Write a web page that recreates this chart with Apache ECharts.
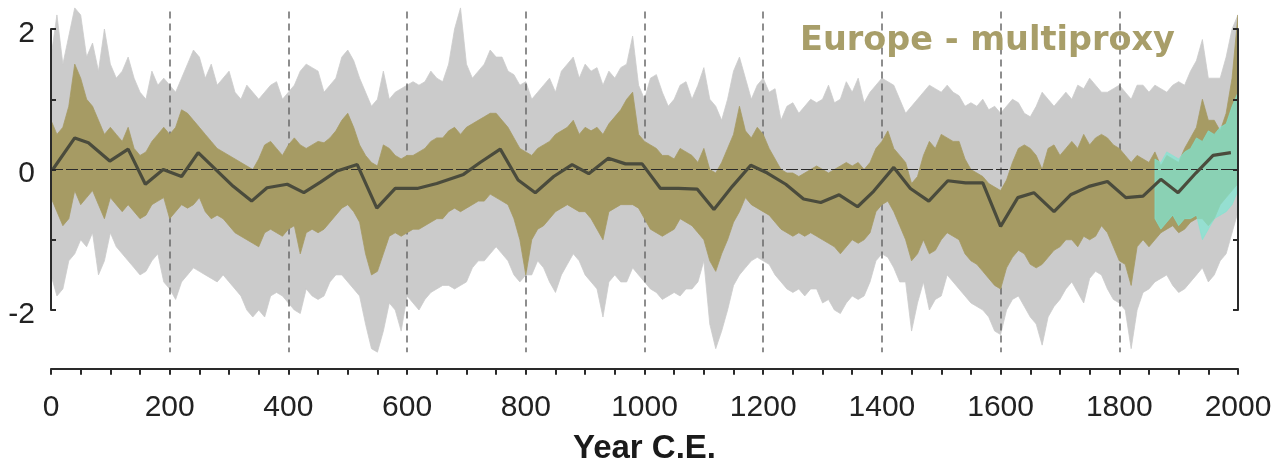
<!DOCTYPE html>
<html>
<head>
<meta charset="utf-8">
<script src="https://cdn.jsdelivr.net/npm/echarts@6/dist/echarts.min.js"></script>
<style>html,body{margin:0;padding:0;background:#fff;}#c{width:1277px;height:462px;}</style>
</head>
<body>
<div id="c"></div>
<script>
// ---- data ----
const yearStart = 0, yearStep = 10;   // decadal samples 0..2000
// gray envelope, upper edge
const grayUpper = [
 1.6, 2.2, 1.5, 1.9, 2.3, 2.2, 1.6, 1.8, 1.4, 2.0,
 1.5, 1.3, 1.4, 1.6, 1.3, 1.1, 1.0, 1.4, 1.2, 1.3,
 1.2, 1.1, 1.3, 1.5, 1.7, 1.6, 1.3, 1.5, 1.2, 1.3,
 1.4, 1.1, 1.0, 1.2, 1.1, 1.0, 1.1, 1.2, 1.25, 1.0,
 1.1, 1.2, 1.4, 1.5, 1.45, 1.4, 1.1, 1.2, 1.3, 1.6,
 1.7, 1.55, 1.3, 1.1, 0.9, 1.0, 1.4, 1.0, 1.1, 1.15,
 1.2, 1.25, 1.2, 1.25, 1.4, 1.3, 1.25, 1.5, 2.0, 2.3,
 1.5, 1.3, 1.4, 1.5, 1.7, 1.6, 1.6, 1.4, 1.35, 1.2,
 1.25, 1.0, 1.1, 1.2, 1.3, 1.1, 1.4, 1.5, 1.6, 1.3,
 1.5, 1.4, 1.45, 1.2, 1.4, 1.3, 1.45, 1.5, 1.9, 1.2,
 1.0, 1.3, 1.35, 1.1, 0.9, 1.0, 1.2, 1.25, 1.0, 1.2,
 1.45, 1.0, 0.9, 0.7, 1.0, 1.4, 1.6, 1.3, 1.0, 1.2,
 1.3, 1.1, 1.15, 0.7, 0.9, 0.95, 0.8, 0.9, 1.0, 0.95,
 1.0, 1.2, 0.95, 1.0, 1.25, 1.1, 1.3, 0.95, 1.1, 1.2,
 1.3, 1.25, 1.2, 1.0, 0.8, 0.9, 1.0, 1.1, 1.2, 1.15,
 1.1, 1.2, 1.1, 1.05, 0.9, 0.95, 0.9, 1.0, 0.85, 0.9,
 0.8, 0.9, 1.0, 0.95, 0.8, 0.75, 0.9, 1.1, 1.0, 0.9,
 1.0, 1.1, 1.0, 1.2, 1.15, 1.3, 1.2, 1.1, 1.1, 1.15,
 1.2, 1.1, 1.0, 1.2, 1.2, 1.1, 1.2, 1.15, 1.1, 1.2,
 1.25, 1.2, 1.4, 1.55, 1.85, 1.3, 1.3, 1.3, 1.6, 2.0,
 2.2
];
// gray envelope, lower edge
const grayLower = [
 -1.5, -1.8, -1.7, -1.3, -1.2, -1.0, -1.1, -0.9, -1.5, -1.3,
 -0.9, -1.1, -1.2, -1.3, -1.4, -1.5, -1.45, -1.3, -1.2, -1.6,
 -1.7, -1.85, -1.6, -1.5, -1.4, -1.45, -1.5, -1.55, -1.6, -1.5,
 -1.6, -1.7, -1.8, -2.0, -2.1, -2.0, -2.1, -1.8, -1.75, -1.8,
 -1.9, -2.0, -2.05, -1.7, -1.8, -1.85, -1.8, -1.6, -1.5, -1.5,
 -1.6, -1.7, -1.8, -2.2, -2.55, -2.6, -2.3, -1.9, -2.0, -2.3,
 -1.8, -1.9, -2.0, -1.85, -1.75, -1.7, -1.65, -1.65, -1.7, -1.65,
 -1.6, -1.4, -1.3, -1.3, -1.2, -1.1, -1.2, -1.3, -1.5, -1.6,
 -1.5, -1.5, -1.3, -1.4, -1.6, -1.75, -1.5, -1.35, -1.2, -1.3,
 -1.5, -1.6, -1.7, -2.1, -1.6, -1.5, -1.6, -1.6, -1.4, -1.5,
 -1.6, -1.7, -1.75, -1.85, -1.8, -1.75, -1.8, -1.7, -1.7, -1.6,
 -1.3, -2.2, -2.55, -2.3, -2.0, -1.65, -1.5, -1.4, -1.3, -1.25,
 -1.3, -1.35, -1.5, -1.6, -1.7, -1.75, -1.7, -1.8, -1.7, -1.7,
 -1.9, -1.85, -2.0, -2.05, -1.9, -1.8, -1.85, -1.8, -1.6, -1.3,
 -1.2, -1.25, -1.4, -1.6, -1.6, -2.3, -1.9, -1.6, -2.0, -1.85,
 -1.8, -1.5, -1.6, -1.7, -1.8, -1.9, -1.95, -2.0, -2.1, -2.3,
 -2.35, -2.0, -1.85, -1.8, -1.95, -2.1, -2.2, -2.5, -2.1, -1.95,
 -1.85, -1.7, -1.6, -1.75, -1.9, -1.55, -1.45, -1.5, -1.7, -1.85,
 -1.9, -2.0, -2.55, -2.0, -1.75, -1.7, -1.6, -1.55, -1.5, -1.65,
 -1.75, -1.7, -1.6, -1.5, -1.4, -1.6, -1.5, -1.3, -1.2, -0.9,
 -0.6
];
// olive (annual multiproxy) spread, upper edge
const oliveUpper = [
 0.7, 0.5, 0.6, 0.9, 1.5, 1.3, 1.0, 0.9, 0.7, 0.5,
 0.6, 0.5, 0.4, 0.6, 0.3, 0.2, 0.25, 0.4, 0.5, 0.6,
 0.5, 0.6, 0.85, 0.8, 0.7, 0.6, 0.5, 0.4, 0.3, 0.25,
 0.2, 0.15, 0.1, 0.05, 0.0, 0.15, 0.35, 0.4, 0.3, 0.2,
 0.35, 0.45, 0.35, 0.3, 0.35, 0.4, 0.38, 0.45, 0.55, 0.7,
 0.8, 0.6, 0.35, 0.2, 0.1, 0.05, 0.35, 0.3, 0.2, 0.15,
 0.2, 0.2, 0.25, 0.3, 0.4, 0.45, 0.45, 0.55, 0.6, 0.5,
 0.6, 0.65, 0.7, 0.75, 0.8, 0.8, 0.7, 0.6, 0.45, 0.3,
 0.25, 0.2, 0.3, 0.35, 0.4, 0.5, 0.55, 0.6, 0.7, 0.5,
 0.6, 0.55, 0.6, 0.5, 0.65, 0.75, 0.85, 1.0, 1.1, 0.5,
 0.4, 0.35, 0.3, 0.2, 0.2, 0.15, 0.3, 0.25, 0.2, 0.1,
 0.3, 0.0, -0.05, 0.1, 0.3, 0.5, 0.9, 0.55, 0.45, 0.6,
 0.5, 0.3, 0.15, 0.0, -0.05, -0.05, -0.1, -0.05, 0.0, 0.05,
 0.0, -0.05, 0.0, 0.05, 0.1, 0.05, 0.1, 0.0, 0.1, 0.3,
 0.4, 0.55, 0.3, 0.2, 0.1, -0.2, -0.1, 0.2, 0.4, 0.3,
 0.5, 0.45, 0.4, 0.4, 0.15, 0.0, -0.05, -0.1, -0.2, -0.25,
 -0.3, -0.15, 0.1, 0.3, 0.35, 0.3, 0.2, 0.0, 0.3, 0.35,
 0.2, 0.3, 0.4, 0.3, 0.5, 0.35, 0.45, 0.5, 0.45, 0.35,
 0.3, 0.2, 0.1, 0.2, 0.15, 0.1, 0.25, 0.05, 0.2, 0.15,
 0.1, 0.3, 0.45, 0.6, 1.0, 0.7, 0.7, 0.55, 0.8, 1.3,
 2.2
];
// olive spread, lower edge
const oliveLower = [
 -0.4, -0.6, -0.8, -0.7, -0.3, -0.5, -0.4, -0.3, -0.5, -0.7,
 -0.4, -0.5, -0.6, -0.5, -0.6, -0.7, -0.65, -0.5, -0.45, -0.4,
 -0.7, -0.6, -0.5, -0.55, -0.5, -0.4, -0.6, -0.7, -0.65, -0.7,
 -0.8, -0.9, -0.95, -1.0, -1.05, -1.1, -0.9, -0.85, -0.9, -0.95,
 -0.85, -0.8, -1.2, -0.9, -0.85, -0.9, -0.85, -0.75, -0.65, -0.55,
 -0.5, -0.6, -0.75, -1.2, -1.5, -1.45, -1.2, -0.95, -0.9, -0.95,
 -0.9, -0.85, -0.85, -0.8, -0.75, -0.7, -0.7, -0.6, -0.55, -0.6,
 -0.55, -0.5, -0.45, -0.45, -0.35, -0.4, -0.45, -0.5, -0.7, -1.0,
 -1.5, -1.0, -0.85, -0.8, -0.7, -0.6, -0.55, -0.5, -0.55, -0.6,
 -0.6, -0.7, -0.85, -1.0, -0.6, -0.55, -0.5, -0.5, -0.5, -0.55,
 -0.7, -0.85, -0.9, -0.95, -0.9, -0.85, -0.7, -0.75, -0.8, -0.9,
 -1.0, -1.3, -1.45, -1.2, -1.0, -0.75, -0.6, -0.4, -0.5, -0.55,
 -0.6, -0.65, -0.75, -0.85, -0.9, -0.95, -0.9, -0.95, -0.9, -0.95,
 -1.0, -1.05, -1.1, -1.2, -1.1, -1.0, -1.05, -1.0, -0.9, -0.6,
 -0.5, -0.45, -0.6, -0.8, -1.0, -1.3, -1.2, -1.0, -1.2, -1.15,
 -1.0, -0.9, -0.95, -1.0, -1.2, -1.3, -1.35, -1.45, -1.55, -1.65,
 -1.7, -1.4, -1.25, -1.15, -1.2, -1.35, -1.4, -1.35, -1.25, -1.15,
 -1.1, -1.0, -1.0, -1.1, -0.95, -1.0, -0.95, -0.8, -0.9, -1.1,
 -1.3, -1.35, -1.65, -1.1, -1.0, -1.1, -1.0, -0.9, -0.85, -0.8,
 -0.9, -0.85, -0.75, -0.7, -0.7, -0.8, -0.7, -0.5, -0.4, -0.3,
 -0.2
];
// instrumental (cyan), 1860..2000
const cyanStart = 1860;
const cyanUpper = [0.15, 0.1, 0.25, 0.2, 0.15, 0.25, 0.3, 0.45, 0.4, 0.55, 0.5, 0.6, 0.65, 0.9, 1.1];
const cyanLower = [-0.7, -0.85, -0.75, -0.65, -0.8, -0.7, -0.7, -0.65, -1.0, -0.85, -0.7, -0.65, -0.6, -0.5, -0.3];
// smoothed (30-yr) reconstruction
const meanYears = [3,40,63,99,130,159,189,220,248,307,338,364,398,426,454,482,516,549,580,617,650,695,723,757,787,816,847,878,906,939,968,996,1027,1057,1089,1117,1148,1179,1207,1238,1268,1297,1328,1359,1386,1420,1448,1479,1511,1541,1570,1600,1629,1656,1690,1718,1749,1780,1811,1840,1870,1899,1929,1958,1988];
const meanVals = [0,0.45,0.38,0.12,0.29,-0.21,0,-0.1,0.24,-0.24,-0.45,-0.26,-0.21,-0.33,-0.18,-0.02,0.07,-0.55,-0.27,-0.27,-0.2,-0.07,0.1,0.29,-0.15,-0.33,-0.1,0.07,-0.06,0.16,0.08,0.08,-0.27,-0.27,-0.28,-0.57,-0.24,0.06,-0.05,-0.21,-0.42,-0.47,-0.36,-0.53,-0.31,0.03,-0.27,-0.45,-0.16,-0.19,-0.19,-0.81,-0.4,-0.33,-0.6,-0.36,-0.24,-0.17,-0.4,-0.38,-0.14,-0.33,-0.05,0.2,0.24];
const dashedYears = [200, 400, 600, 800, 1000, 1200, 1400, 1600, 1800];
const yLabels = ['2', '0', '-2'];
const titleText = 'Europe - multiproxy';
const xName = 'Year C.E.';

// ---- build ----
const yearsOf = (start, n) => Array.from({length: n}, (_, i) => start + i * yearStep);
const yrs = yearsOf(yearStart, grayUpper.length);
const cyrs = yearsOf(cyanStart, cyanUpper.length);

// a filled band between two edges, drawn through the axes' scales
const bandSeries = (years, lo, hi, color, op, z) => ({
  type: 'custom', xAxisIndex: 0, yAxisIndex: 0, silent: true, clip: true, z: z,
  data: [[years[0], lo[0]]],
  renderItem: (params, api) => {
    const pts = [];
    for (let i = 0; i < years.length; i++) pts.push(api.coord([years[i], hi[i]]));
    for (let i = years.length - 1; i >= 0; i--) pts.push(api.coord([years[i], lo[i]]));
    return {type: 'polygon', shape: {points: pts}, style: {fill: color, opacity: op, stroke: color, lineWidth: 0.8}};
  }
});

const chart = echarts.init(document.getElementById('c'), null, {renderer: 'canvas'});
const LEFT = 51, RIGHT = 39, PPU = 70.25;
chart.setOption({
  animation: false,
  backgroundColor: '#fff',
  title: {
    text: titleText, left: 795, top: 19, z: 20,
    textStyle: {fontFamily: 'DejaVu Sans', fontWeight: 'bold', fontSize: 33.5, color: '#a89e69'}
  },
  grid: [
    {left: LEFT, right: RIGHT, top: 29 - 0.4 * PPU, height: 5.15 * PPU, containLabel: false, outerBoundsMode: 'none'},
    {left: LEFT, right: RIGHT, top: 29, height: 4 * PPU, containLabel: false, outerBoundsMode: 'none'}
  ],
  xAxis: [
    {
      type: 'value', gridIndex: 0, min: 0, max: 2000, interval: 50, position: 'bottom', offset: 6, z: 10,
      axisLine: {show: true, onZero: false, lineStyle: {color: '#2a2a2a', width: 2}},
      axisTick: {show: true, length: 6, lineStyle: {color: '#2a2a2a', width: 2}},
      splitLine: {show: false},
      axisLabel: {
        margin: 24, fontFamily: 'Liberation Sans', fontSize: 30, color: '#222',
        hideOverlap: false, formatter: v => (v % 200 === 0 ? String(v) : '')
      },
      name: xName, nameLocation: 'middle', nameGap: 64,
      nameTextStyle: {fontFamily: 'Liberation Sans', fontWeight: 'bold', fontSize: 33, color: '#1a1a1a'}
    },
    {type: 'value', gridIndex: 1, min: 0, max: 2000, show: false}
  ],
  yAxis: [
    {type: 'value', gridIndex: 0, min: -2.75, max: 2.4, show: false},
    {
      type: 'value', gridIndex: 1, min: -2, max: 2, interval: 1, position: 'left', z: 10,
      axisLine: {show: true, onZero: false, lineStyle: {color: '#2a2a2a', width: 2}},
      axisTick: {show: true, inside: true, length: 5, lineStyle: {color: '#2a2a2a', width: 2}},
      splitLine: {show: false},
      axisLabel: {
        margin: 16, fontFamily: 'Liberation Sans', fontSize: 30, color: '#222',
        formatter: v => (yLabels.indexOf(String(v)) >= 0 ? '{a|' + v + '}' : ''),
        rich: {a: {fontFamily: 'Liberation Sans', fontSize: 30, color: '#222', padding: [9, 0, 0, 0]}}
      }
    },
    {
      type: 'value', gridIndex: 1, min: -2, max: 2, interval: 1, position: 'right', z: 10,
      axisLine: {show: true, onZero: false, lineStyle: {color: '#2a2a2a', width: 2}},
      axisTick: {show: true, inside: true, length: 5, lineStyle: {color: '#2a2a2a', width: 2}},
      splitLine: {show: false}, axisLabel: {show: false}
    }
  ],
  series: [
    bandSeries(yrs, grayLower, grayUpper, '#cbcbcb', 1, 1),
    {
      // dashed century guides, drawn above the gray envelope but under the olive series
      type: 'line', xAxisIndex: 0, yAxisIndex: 0, symbol: 'none', silent: true, z: 2, data: [],
      markLine: {
        z: 2, silent: true, symbol: 'none', label: {show: false}, animation: false,
        lineStyle: {color: '#6a6a6a', width: 1.5, type: [7, 5]},
        data: dashedYears.map(y => [{coord: [y, 2.25]}, {coord: [y, -2.6]}])
      }
    },
    bandSeries(yrs, oliveLower, oliveUpper, '#a69b64', 1, 3),
    bandSeries(cyrs, cyanLower, cyanUpper, '#80e6d3', 0.72, 4),
    {
      type: 'line', xAxisIndex: 0, yAxisIndex: 0, symbol: 'none', silent: true, z: 6,
      lineStyle: {color: '#4a4b3c', width: 3.2},
      data: meanYears.map((y, i) => [y, meanVals[i]]),
      markLine: {
        z: 5, silent: true, symbol: 'none', label: {show: false}, animation: false,
        data: [{yAxis: 0, lineStyle: {color: '#2a2a2a', width: 1, type: [12, 3]}}]
      }
    }
  ]
});
</script>
</body>
</html>
